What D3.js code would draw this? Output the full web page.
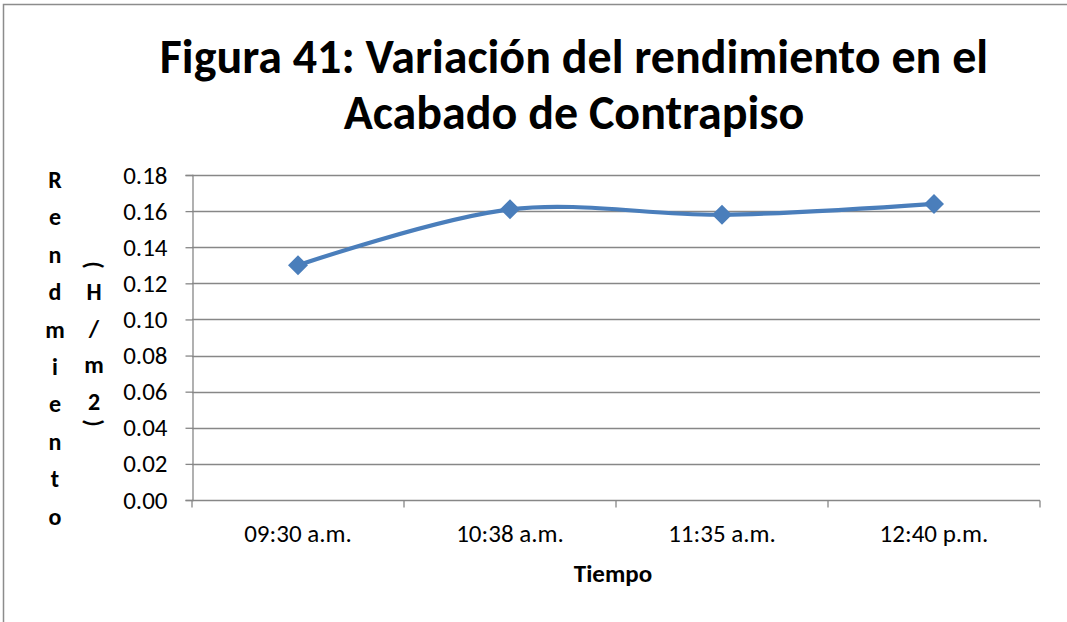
<!DOCTYPE html>
<html>
<head>
<meta charset="utf-8">
<script src="https://cdn.jsdelivr.net/npm/d3@7"></script>
<style>
  html, body { margin: 0; padding: 0; background: #fff; overflow: hidden; }
  svg { display: block; overflow: hidden; font-family: Carlito, Calibri, Lato, sans-serif; }
</style>
</head>
<body>
<svg id="chart" width="1067" height="622"></svg>
<script>
// Chart data
const categories = ["09:30 a.m.", "10:38 a.m.", "11:35 a.m.", "12:40 p.m."];
const rendimiento = [0.130, 0.161, 0.158, 0.164];
const yTicks = [0, 0.02, 0.04, 0.06, 0.08, 0.10, 0.12, 0.14, 0.16, 0.18];
const titleLines = ["Figura 41: Variación del rendimiento en el", "Acabado de Contrapiso"];
const yTitleLetters = ["R", "e", "n", "d", "m", "i", "e", "n", "t", "o"];
const yUnitLetters = ["H", "/", "m", "2"];
const xTitle = "Tiempo";

const svg = d3.select("#chart");
const W = 1067, H = 622;
const plot = { left: 192, right: 1040, top: 175, bottom: 500 };
const gridColor = "#878787";
const lineColor = "#4A7EBB";
const labelSize = 25;

// Outer chart frame (right and bottom edges fall outside the canvas)
svg.append("rect")
  .attr("x", 3.5).attr("y", 4.5)
  .attr("width", W + 10).attr("height", H + 10)
  .attr("fill", "#fff").attr("stroke", "#8c8c8c").attr("stroke-width", 1.5);

// Scales
const x = d3.scaleBand().domain(categories).range([plot.left, plot.right]);
const y = d3.scaleLinear().domain([0, 0.18]).range([plot.bottom, plot.top]);

// Horizontal gridlines
svg.append("g").selectAll("line").data(yTicks.filter(d => d > 0)).join("line")
  .attr("x1", plot.left).attr("x2", plot.right)
  .attr("y1", d => Math.round(y(d)) + 0.5).attr("y2", d => Math.round(y(d)) + 0.5)
  .attr("stroke", gridColor).attr("stroke-width", 1.3);

// Y axis
const yAxis = svg.append("g")
  .attr("transform", `translate(${plot.left + 0.5},0)`)
  .call(d3.axisLeft(y).tickValues(yTicks).tickFormat(d3.format(".2f")).tickSize(7).tickPadding(18));
yAxis.select(".domain").attr("stroke", gridColor).attr("stroke-width", 1.3);
yAxis.selectAll(".tick line").attr("stroke", gridColor).attr("stroke-width", 1.3);
yAxis.selectAll(".tick text")
  .attr("font-size", labelSize).attr("fill", "#000").attr("font-family", "Carlito, Calibri, Lato, sans-serif");

// X axis with ticks at category boundaries
const xAxisG = svg.append("g").attr("transform", `translate(0,${plot.bottom + 0.5})`);
xAxisG.append("line")
  .attr("x1", plot.left).attr("x2", plot.right)
  .attr("stroke", gridColor).attr("stroke-width", 1.3);
const boundaries = categories.map(c => x(c)).concat([x(categories[categories.length - 1]) + x.bandwidth()]);
xAxisG.selectAll("line.tk").data(boundaries).join("line").attr("class", "tk")
  .attr("x1", d => d).attr("x2", d => d).attr("y1", 0).attr("y2", 7)
  .attr("stroke", gridColor).attr("stroke-width", 1.3);
xAxisG.selectAll("text").data(categories).join("text")
  .attr("x", d => x(d) + x.bandwidth() / 2).attr("y", 41.5)
  .attr("text-anchor", "middle").attr("font-size", labelSize).attr("fill", "#000")
  .text(d => d);

// Smoothed series line
const line = d3.line()
  .x((d, i) => x(categories[i]) + x.bandwidth() / 2)
  .y(d => y(d))
  .curve(d3.curveCatmullRom.alpha(0.5));
svg.append("path").datum(rendimiento)
  .attr("d", line).attr("fill", "none")
  .attr("stroke", lineColor).attr("stroke-width", 4.2).attr("stroke-linejoin", "round");

// Diamond markers
svg.append("g").selectAll("path").data(rendimiento).join("path")
  .attr("transform", (d, i) => `translate(${x(categories[i]) + x.bandwidth() / 2},${y(d)})`)
  .attr("d", "M0,-10L10,0L0,10L-10,0Z")
  .attr("fill", lineColor);

// Title
svg.append("g").selectAll("text").data(titleLines).join("text")
  .attr("x", 574).attr("y", (d, i) => 73 + i * 56)
  .attr("text-anchor", "middle").attr("font-size", 48).attr("font-weight", "bold")
  .attr("fill", "#000").text(d => d);

// X axis title
svg.append("text").attr("x", 613).attr("y", 582)
  .attr("text-anchor", "middle").attr("font-size", labelSize).attr("font-weight", "bold")
  .text(xTitle);

// Y axis title, stacked letters
svg.append("g").selectAll("text").data(yTitleLetters).join("text")
  .attr("x", 55).attr("y", (d, i) => 188 + i * 37.4)
  .attr("text-anchor", "middle").attr("font-size", 24).attr("font-weight", "bold")
  .text(d => d);

// Unit column: rotated parentheses around stacked letters
const unit = svg.append("g");
unit.append("text")
  .attr("transform", "translate(94,265) rotate(90)")
  .attr("text-anchor", "middle").attr("dominant-baseline", "central")
  .attr("font-size", 24).attr("font-weight", "bold").text("(");
unit.selectAll("text.l").data(yUnitLetters).join("text").attr("class", "l")
  .attr("x", 94).attr("y", (d, i) => 300 + i * 36.7)
  .attr("text-anchor", "middle").attr("font-size", 24).attr("font-weight", "bold")
  .text(d => d);
unit.append("text")
  .attr("transform", "translate(94,423) rotate(90)")
  .attr("text-anchor", "middle").attr("dominant-baseline", "central")
  .attr("font-size", 24).attr("font-weight", "bold").text(")");
</script>
</body>
</html>
